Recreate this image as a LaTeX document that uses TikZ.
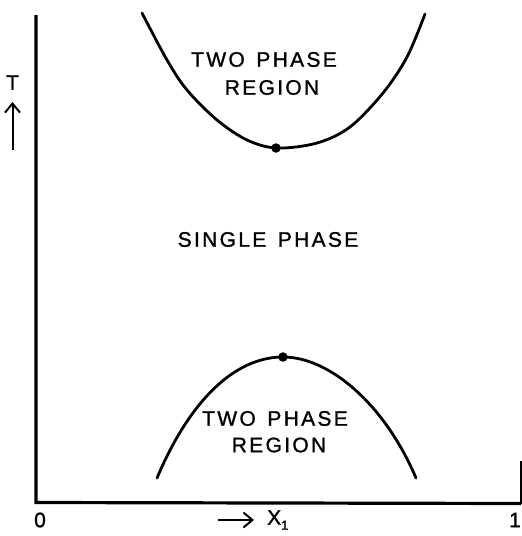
\documentclass[tikz,border=0pt]{standalone}
\usepackage{fontspec}
\setmainfont{Liberation Sans}
\usetikzlibrary{arrows.meta}
\newcommand{\wsp}{\hspace{0.55em}}
\tikzset{
  lbl/.style={inner sep=0pt, font=\fontsize{21}{23}\selectfont\addfontfeatures{LetterSpace=11,FakeBold=1.2}},
  axis/.style={line width=3.2pt},
  curve/.style={line width=2.8pt, line join=round, line cap=round},
  dotm/.style={circle, fill=black, inner sep=0pt, minimum size=9.5pt},
  arr/.style={line width=2pt, -{Straight Barb[length=9pt,width=15pt,line width=2pt]}},
}
\begin{document}
\begin{tikzpicture}[x=1pt,y=-1pt]
\useasboundingbox (0,0) rectangle (522,536);
% axes
\coordinate (ytop) at (36,15);
\coordinate (orig) at (36,502.5);
\coordinate (xend) at (521,503.5);
\coordinate (tick) at (521,461);
\draw[axis] (ytop) -- (orig) -- (xend);
\draw[line width=1.8pt] (xend) -- (tick);
% upper curve
\draw[curve] plot[smooth, tension=0.55] coordinates {
 (142,13) (167,60) (187,90) (217,120) (247,140) (277,148) (317,143) (350,127) (383,93) (407,57) (425,14)};
% lower curve
\coordinate (la) at (157,478);
\coordinate (lp) at (283,357);
\coordinate (lb) at (416,478);
\draw[curve] (la) .. controls (190,400) and (235,357) .. (lp) .. controls (330,357) and (385,405) .. (lb);
\node[dotm] (cu) at (276,148) {};
\node[dotm] (cl) at (283,357) {};
% labels
\node[lbl] (tp1) at (264,59.5) {TWO\wsp PHASE};
\node[lbl] (rg1) at (272,87.5) {REGION};
\node[lbl] (sp) at (268,239.5) {SINGLE\wsp PHASE};
\node[lbl] (tp2) at (275,418.5) {TWO\wsp PHASE};
\node[lbl] (rg2) at (279,445) {REGION};
\node[lbl] (tl) at (12.5,82.5) {T};
\coordinate (ta) at (12.5,150);
\coordinate (tb) at (12.5,102);
\draw[arr] (ta) -- (tb);
\node[lbl] (zero) at (40,520) {0};
\node[lbl] (one) at (515,520) {1};
\coordinate (xa) at (218,520);
\coordinate (xb) at (254,520);
\draw[arr] (xa) -- (xb);
\node[lbl, anchor=west] (x1) at (267,520) {X\raisebox{-5pt}{\fontsize{13}{14}\selectfont\addfontfeatures{FakeBold=2} 1}};
\end{tikzpicture}
\end{document}
